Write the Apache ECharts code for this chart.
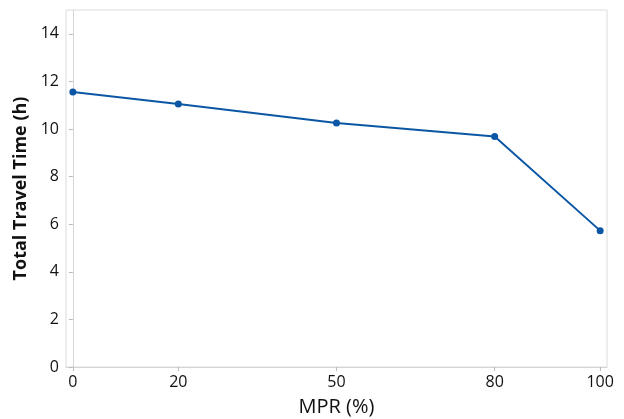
<!DOCTYPE html>
<html><head><meta charset="utf-8">
<script src="https://cdn.jsdelivr.net/npm/echarts@6/dist/echarts.min.js"></script>
<style>html,body{margin:0;padding:0;background:#fff}#c{width:624px;height:419px}</style>
</head><body><div id="c"></div>
<script>
const mpr = [0, 20, 50, 80, 100];
const travelTime = [11.55, 11.05, 10.25, 9.68, 5.73];
const xTicks = [0, 20, 50, 80, 100];
const yTicks = [0, 2, 4, 6, 8, 10, 12, 14];
const xTitle = 'MPR (%)';
const yTitle = 'Total Travel Time (h)';

const chart = echarts.init(document.getElementById('c'));
const font = 'Open Sans';
chart.setOption({
  animation: false,
  grid: { left: 66, right: 17, top: 10, bottom: 52, show: true, borderColor: '#dcdcdc', borderWidth: 1, outerBoundsMode: 'none', containLabel: false },
  xAxis: {
    type: 'value', min: -1.3, max: 101.3,
    name: xTitle, nameLocation: 'middle', nameGap: 30,
    nameTextStyle: { fontFamily: font, fontSize: 20, color: '#111' },
    axisLine: { show: true, lineStyle: { color: '#d6d6d6' } },
    axisTick: { show: true, customValues: xTicks, length: 4, lineStyle: { color: '#bbb' } },
    axisLabel: { customValues: xTicks, fontFamily: font, fontSize: 16, color: '#111', margin: 7 },
    splitLine: { show: false }
  },
  yAxis: {
    type: 'value', min: 0, max: 15,
    name: yTitle, nameLocation: 'middle', nameGap: 30,
    nameTextStyle: { fontFamily: font, fontSize: 18, fontWeight: 'bold', color: '#111' },
    axisLine: { show: true, lineStyle: { color: '#d6d6d6' } },
    axisTick: { show: true, customValues: yTicks, length: 4, lineStyle: { color: '#bbb' } },
    axisLabel: { customValues: yTicks, fontFamily: font, fontSize: 16, color: '#111', margin: 7 },
    splitLine: { show: false }
  },
  series: [{
    type: 'line',
    data: mpr.map((m, i) => [m, travelTime[i]]),
    symbol: 'circle', symbolSize: 7,
    lineStyle: { color: '#0b57a4', width: 2 },
    itemStyle: { color: '#0b57a4' }
  }]
});
</script></body></html>
